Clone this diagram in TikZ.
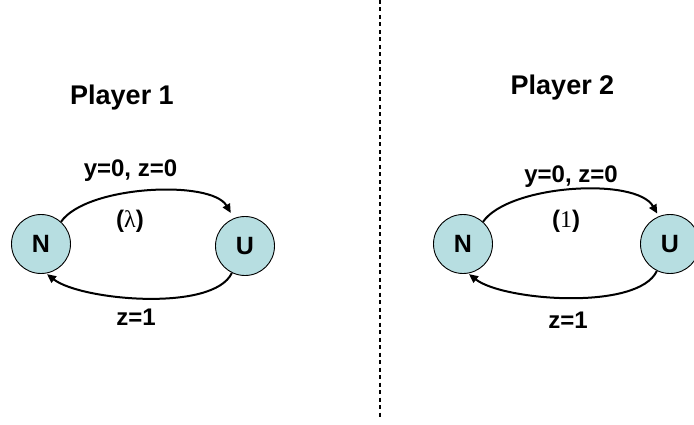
\documentclass[tikz,border=0pt]{standalone}
\usepackage{fontspec}
\setmainfont{Liberation Sans}
\newfontfamily\serifgreek{Liberation Serif}
\usetikzlibrary{arrows.meta}
\definecolor{statefill}{RGB}{183,222,225}
\begin{document}
\begin{tikzpicture}[x=1pt,y=1pt,
  state/.style={circle, draw=black, line width=0.9pt, fill=statefill, minimum size=59pt, inner sep=0pt, font=\fontsize{25}{30}\selectfont\bfseries},
  lbl/.style={font=\fontsize{24}{28}\selectfont\bfseries, inner sep=0pt, anchor=base},
  ptitle/.style={font=\fontsize{27}{32}\selectfont\bfseries, inner sep=0pt, anchor=base},
  trans/.style={line width=2pt, -{Triangle[length=9pt,width=8pt]}},
  divider/.style={line width=1.5pt, dash pattern=on 4pt off 3.5pt}]
\useasboundingbox (0,0) rectangle (694,-425);
% divider
\coordinate (dtop) at (380,0);
\coordinate (dbot) at (380,-419);
\draw[divider] (dtop) -- (dbot);
% titles
\node[ptitle] (p1) at (122,-104.5) {Player 1};
\node[ptitle] (p2) at (562.5,-95) {Player 2};
% states
\node[state] (N1) at (41,-244) {N};
\node[state] (U1) at (245,-246) {U};
\node[state] (N2) at (463,-244) {N};
\node[state] (U2) at (670,-244) {U};
% transitions player 1
\draw[trans, shorten >=6pt] (N1.48) to[out=55,in=120,looseness=0.66] (U1.112);
\draw[trans, shorten >=1pt] (U1.-116) to[out=-115,in=-38,looseness=0.6] (N1.-80);
% transitions player 2
\draw[trans, shorten >=3pt] (N2.48) to[out=55,in=120,looseness=0.66] (U2.112);
\draw[trans, shorten >=1pt] (U2.-116) to[out=-115,in=-38,looseness=0.6] (N2.-80);
% labels
\node[lbl] (t1) at (130.5,-177) {y=0, z=0};
\node[lbl] (l1) at (130,-228) {(\serifgreek\mdseries λ\bfseries\rmfamily)};
\node[lbl] (b1) at (136,-325) {z=1};
\node[lbl] (t2) at (571,-183) {y=0, z=0};
\node[lbl] (l2) at (566,-227) {(\serifgreek\mdseries 1\bfseries\rmfamily)};
\node[lbl] (b2) at (568,-328) {z=1};
\end{tikzpicture}
\end{document}
